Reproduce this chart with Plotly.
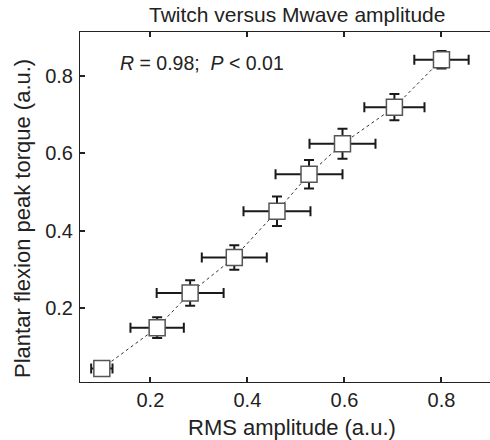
import plotly.graph_objects as go

rms = [0.100, 0.214, 0.282, 0.373, 0.461, 0.527, 0.596, 0.703, 0.800]
torque = [0.042, 0.148, 0.238, 0.330, 0.450, 0.546, 0.625, 0.720, 0.843]
rms_err = [0.022, 0.055, 0.069, 0.067, 0.069, 0.069, 0.068, 0.062, 0.056]
torque_err = [0.006, 0.027, 0.033, 0.032, 0.038, 0.037, 0.039, 0.034, 0.023]
x_ticks = [0.2, 0.4, 0.6, 0.8]
y_ticks = [0.2, 0.4, 0.6, 0.8]

font = "Liberation Sans, Arial, sans-serif"
W, H = 490, 440
L, T = 80, 32
R = 0
B = H - 382
pw, ph = W - L - R, H - T - B


def px(x):
    return (x - L) / pw


def py(y):
    return ((H - B) - y) / ph


fig = go.Figure()
fig.add_trace(go.Scatter(
    x=rms, y=torque, mode="lines+markers",
    line=dict(color="#333333", width=1, dash="dot"),
    marker=dict(symbol="square", size=16, color="white",
                line=dict(color="#555555", width=1.5)),
    error_x=dict(type="data", array=rms_err, color="#1a1a1a", thickness=2, width=5),
    error_y=dict(type="data", array=torque_err, color="#1a1a1a", thickness=2, width=5),
    showlegend=False, hoverinfo="skip",
))

axis_common = dict(
    ticks="inside", ticklen=5, tickwidth=1.5, tickcolor="#222",
    showline=True, linecolor="#222", linewidth=1,
    showgrid=False, zeroline=False, automargin=False,
    tickfont=dict(size=20, color="#222"),
)

fig.update_layout(
    width=W, height=H,
    margin=dict(l=L, r=R, t=T, b=B, autoexpand=False),
    paper_bgcolor="white", plot_bgcolor="white",
    font=dict(family=font, size=20, color="#222222"),
    xaxis=dict(range=[0.055, 0.9], tickvals=x_ticks, mirror="ticks",
               ticktext=[f"{v:.1f}" for v in x_ticks], **axis_common),
    yaxis=dict(range=[0.007, 0.915], tickvals=y_ticks, mirror=False,
               ticktext=[f"{v:.1f}" for v in y_ticks], ticklabelstandoff=2, **axis_common),
)

# chart title
fig.add_annotation(xref="paper", yref="paper", x=px(297), y=py(14),
                   xanchor="center", yanchor="middle", showarrow=False,
                   text="Twitch versus Mwave amplitude", font=dict(size=21))
# axis titles
fig.add_annotation(xref="paper", yref="paper", x=px(292), y=py(427),
                   xanchor="center", yanchor="middle", showarrow=False,
                   text="RMS amplitude (a.u.)", font=dict(size=22))
fig.add_annotation(xref="paper", yref="paper", x=px(22), y=py(219),
                   xanchor="center", yanchor="middle", showarrow=False, textangle=-90,
                   text="Plantar flexion peak torque (a.u.)", font=dict(size=22))
# statistics
fig.add_annotation(xref="paper", yref="paper", x=px(118), y=py(63),
                   xanchor="left", yanchor="middle", showarrow=False,
                   text="<i>R</i> = 0.98;  <i>P</i> < 0.01", font=dict(size=19.5))

fig.write_html("out.html", config={"displayModeBar": False},
               post_script="document.body.style.margin='0px';")
